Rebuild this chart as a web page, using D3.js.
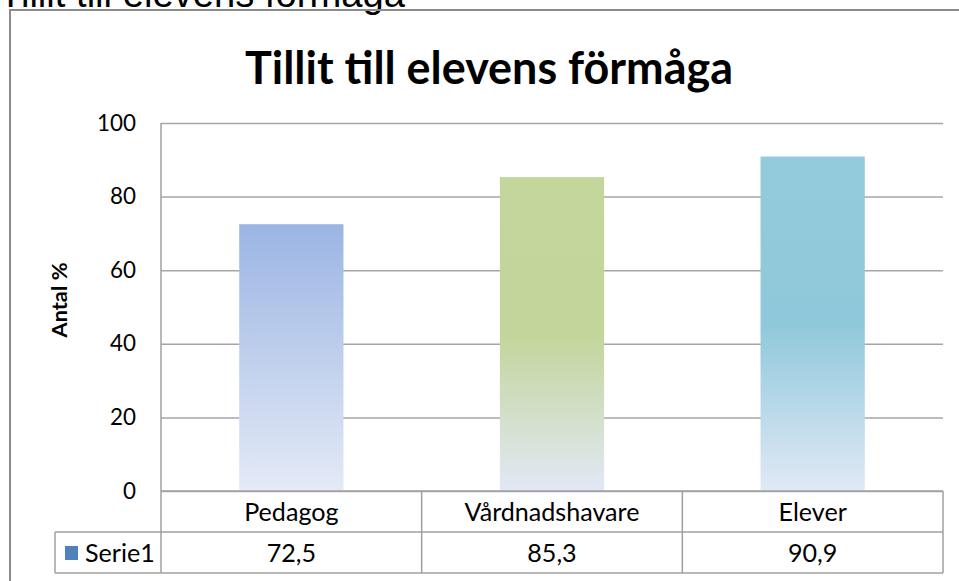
<!DOCTYPE html>
<html>
<head>
<meta charset="utf-8">
<script src="https://cdn.jsdelivr.net/npm/d3@7"></script>
<style>
  body { margin: 0; background: #fff; }
  svg { display: block; }
  text { font-family: Lato, "Open Sans", sans-serif; fill: #000; }
</style>
</head>
<body>
<div id="chart"></div>
<script>
// chart data
var categories = ["Pedagog", "Vårdnadshavare", "Elever"];
var values = [72.5, 85.3, 90.9];
var valueLabels = ["72,5", "85,3", "90,9"];
var yTicks = [0, 20, 40, 60, 80, 100];
var seriesName = "Serie1";
var chartTitle = "Tillit till elevens förmåga";
var yTitle = "Antal %";

var svgWidth = 959, svgHeight = 581;
var plot = { left: 161, right: 943, top: 123, bottom: 491 };
var rowH = 41;

var svg = d3.select("#chart").append("svg")
    .attr("width", svgWidth)
    .attr("height", svgHeight);

// fit a text's font size so it spans the wanted width
function fitSize(sel, base, target) {
  var s = base * target / sel.node().getComputedTextLength();
  sel.style("font-size", s + "px");
  return s;
}

// gradients for each bar (top colour, mid stop, bottom)
var grads = [
  [["0%", "#9bb5e3"], ["100%", "#e4eaf6"]],
  [["0%", "#c3d69b"], ["50%", "#c3d59a"], ["100%", "#e2e8f6"]],
  [["0%", "#94cbdc"], ["50%", "#8fc8da"], ["100%", "#e1e9f6"]]
];
var defs = svg.append("defs");
grads.forEach(function(stops, i) {
  var g = defs.append("linearGradient")
      .attr("id", "g" + i)
      .attr("x1", 0).attr("y1", 0).attr("x2", 0).attr("y2", 1);
  stops.forEach(function(s) {
    g.append("stop").attr("offset", s[0]).attr("stop-color", s[1]);
  });
});

// cut-off heading above the frame (it is clipped in the source too)
var head = svg.append("text")
    .attr("x", -1)
    .attr("y", 7)
    .style("font-family", "'Liberation Sans', Arial, sans-serif")
    .style("font-size", "30px")
    .text(chartTitle);
fitSize(head, 30, 406);

// chart frame
svg.append("rect")
    .attr("x", 10).attr("y", 10)
    .attr("width", 980).attr("height", 600)
    .attr("fill", "none")
    .attr("stroke", "#8c8c8c")
    .attr("stroke-width", 2);

// title
var title = svg.append("text")
    .attr("x", 489)
    .attr("y", 84)
    .attr("text-anchor", "middle")
    .style("font-weight", "bold")
    .style("font-size", "40px")
    .text(chartTitle);
fitSize(title, 40, 488);

// scales
var x = d3.scaleBand()
    .domain(categories)
    .range([plot.left, plot.right])
    .paddingInner(0.6)
    .paddingOuter(0.3);

var xCol = d3.scaleBand()
    .domain(categories)
    .range([plot.left, plot.right]);

var y = d3.scaleLinear()
    .domain([0, 100])
    .range([plot.bottom, plot.top]);

// gridlines
var grid = svg.append("g")
    .attr("transform", "translate(" + plot.left + ",0)")
    .call(d3.axisLeft(y).tickValues(yTicks).tickSize(-(plot.right - plot.left)).tickFormat(""));
grid.select(".domain").remove();
grid.selectAll(".tick line").attr("stroke", "#a6a6a6").attr("stroke-width", 1.5);

// y tick labels
var yAxis = svg.append("g")
    .attr("transform", "translate(" + (plot.left - 25) + ",0)")
    .call(d3.axisLeft(y).tickValues(yTicks).tickSize(0).tickPadding(0));
yAxis.select(".domain").remove();
yAxis.selectAll("text")
    .style("font-family", "Lato, sans-serif")
    .style("font-size", "20px")
    .attr("fill", "#1a1a1a");
var tickSize = 20 * 39 / yAxis.selectAll("text").filter(function(d) { return d === 100; }).node().getComputedTextLength();
yAxis.selectAll("text").style("font-size", tickSize + "px");

// bars
svg.selectAll("rect.bar")
    .data(values)
    .enter()
    .append("rect")
    .attr("class", "bar")
    .attr("x", function(d, i) { return x(categories[i]); })
    .attr("y", function(d) { return y(d); })
    .attr("width", x.bandwidth())
    .attr("height", function(d) { return y(0) - y(d); })
    .attr("fill", function(d, i) { return "url(#g" + i + ")"; });

// y axis title
var yt = svg.append("text")
    .attr("transform", "translate(67,300) rotate(-90)")
    .attr("text-anchor", "middle")
    .style("font-weight", "bold")
    .style("font-size", "18px")
    .text(yTitle);
fitSize(yt, 18, 75);

// data table
var tbl = svg.append("g")
    .attr("fill", "none")
    .attr("stroke", "#a0a0a0")
    .attr("stroke-width", 1.5);

tbl.append("line")
    .attr("x1", plot.left).attr("x2", plot.right)
    .attr("y1", plot.bottom).attr("y2", plot.bottom);
tbl.append("line")
    .attr("x1", 55).attr("x2", plot.right)
    .attr("y1", plot.bottom + rowH).attr("y2", plot.bottom + rowH);
tbl.append("line")
    .attr("x1", 55).attr("x2", plot.right)
    .attr("y1", plot.bottom + 2 * rowH).attr("y2", plot.bottom + 2 * rowH);
tbl.append("line")
    .attr("x1", 55).attr("x2", 55)
    .attr("y1", plot.bottom + rowH).attr("y2", plot.bottom + 2 * rowH);
tbl.append("line")
    .attr("x1", plot.left).attr("x2", plot.left)
    .attr("y1", plot.top).attr("y2", plot.bottom + 2 * rowH);
categories.forEach(function(c) {
  var xr = xCol(c) + xCol.bandwidth();
  tbl.append("line")
      .attr("x1", xr).attr("x2", xr)
      .attr("y1", plot.bottom).attr("y2", plot.bottom + 2 * rowH);
});

// category labels
var cats = svg.selectAll("text.cat")
    .data(categories)
    .enter()
    .append("text")
    .attr("class", "cat")
    .attr("x", function(d) { return xCol(d) + xCol.bandwidth() / 2; })
    .attr("y", plot.bottom + rowH / 2)
    .attr("dy", "0.36em")
    .attr("text-anchor", "middle")
    .style("font-size", "20px")
    .attr("fill", "#1a1a1a")
    .text(function(d) { return d; });
var tableSize = 20 * 175 / cats.filter(function(d) { return d === "Vårdnadshavare"; }).node().getComputedTextLength();
cats.style("font-size", tableSize + "px");

// value labels
svg.selectAll("text.val")
    .data(valueLabels)
    .enter()
    .append("text")
    .attr("class", "val")
    .attr("x", function(d, i) { return xCol(categories[i]) + xCol.bandwidth() / 2; })
    .attr("y", plot.bottom + rowH * 1.5)
    .attr("dy", "0.36em")
    .attr("text-anchor", "middle")
    .style("font-size", tableSize + "px")
    .attr("fill", "#1a1a1a")
    .text(function(d) { return d; });

// legend key inside table
svg.append("rect")
    .attr("x", 65).attr("y", 546)
    .attr("width", 13).attr("height", 14)
    .attr("fill", "#4f81bd");
svg.append("text")
    .attr("x", 85)
    .attr("y", plot.bottom + rowH * 1.5)
    .attr("dy", "0.36em")
    .style("font-size", tableSize + "px")
    .attr("fill", "#1a1a1a")
    .text(seriesName);
</script>
</body>
</html>
